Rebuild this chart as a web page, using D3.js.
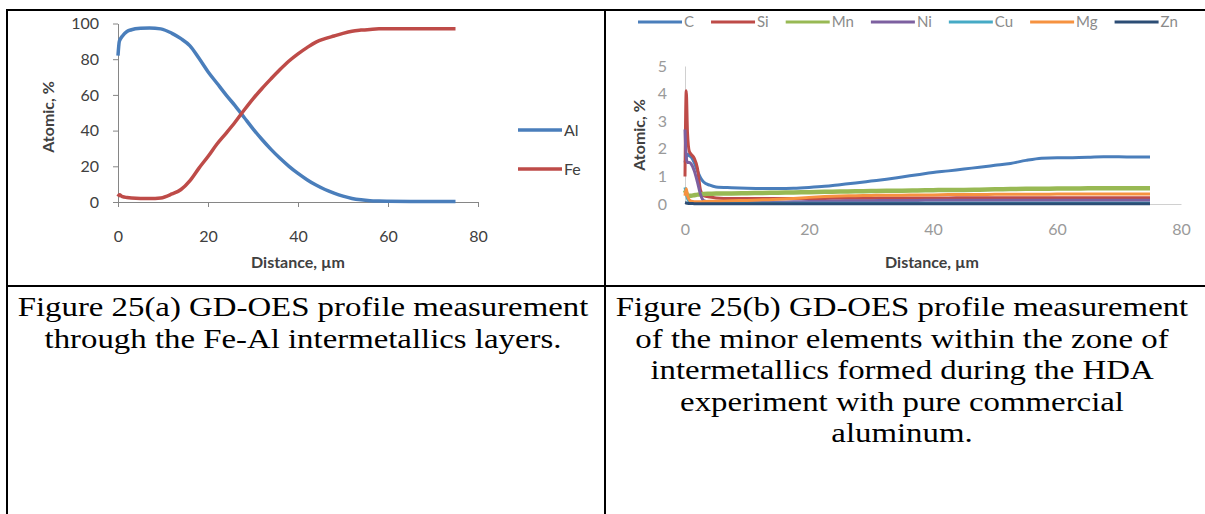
<!DOCTYPE html>
<html>
<head>
<meta charset="utf-8">
<script src="https://cdnjs.cloudflare.com/ajax/libs/d3/7.8.5/d3.min.js"></script>
<style>
body { margin: 0; background: #fff; }
svg { display: block; }
</style>
</head>
<body>
<svg id="page" width="1205" height="514"></svg>
<script>
// ---- chart (a): Al / Fe profile ----
var distA = [0, 0.3, 1, 2, 3, 5, 7, 9.5, 12, 14, 16, 18, 20, 22, 24, 26, 28, 30, 32, 34, 36, 38,
             40, 42, 44, 46, 48, 50, 52, 54, 56, 58, 60, 65, 70, 75];
var alVals = [82, 90, 93, 95.5, 96.5, 97.3, 97.5, 97, 94.5, 91.5, 87.5, 80.5, 73, 66.5, 60, 54, 47.5, 41, 35, 29.5, 24.5, 20,
              16, 12.5, 9.5, 7, 5, 3.3, 2, 1.2, 0.7, 0.5, 0.4, 0.3, 0.3, 0.3];
var feVals = [3, 4, 3, 2.5, 2.2, 2, 2, 2.3, 4.5, 7, 12, 19, 25.5, 32.5, 38.5, 44.7, 51.4, 57.8, 63.6, 69, 74.2, 79,
              83, 86.5, 89.6, 91.5, 93, 94.5, 95.7, 96.3, 96.7, 97, 97, 97, 97, 97];
var seriesA = ["Al", "Fe"];
var xTicksA = [0, 20, 40, 60, 80];
var yTicksA = [0, 20, 40, 60, 80, 100];

// ---- chart (b): minor elements ----
var distB = [0, 0.2, 0.4, 0.7, 1, 1.5, 2, 2.5, 3, 4, 5, 7.5, 10, 12.5, 15, 17.5, 20, 22.5, 25, 27.5,
             30, 32.5, 35, 37.5, 40, 42.5, 45, 47.5, 50, 52.5, 55, 57.5, 60, 62.5, 65, 67.5, 70, 72.5, 75];
var cVals  = [1.5, 1.7, 1.8, 1.75, 1.7, 1.5, 1.2, 0.95, 0.8, 0.68, 0.62, 0.59, 0.57, 0.56, 0.56, 0.57, 0.6, 0.64, 0.7, 0.76,
              0.83, 0.9, 0.98, 1.06, 1.14, 1.2, 1.27, 1.33, 1.4, 1.47, 1.58, 1.66, 1.68, 1.68, 1.69, 1.71, 1.71, 1.7, 1.7];
var siVals = [1.0, 4.1, 2.6, 1.9, 1.8, 1.65, 1.3, 0.5, 0.3, 0.25, 0.22, 0.2, 0.2, 0.2, 0.2, 0.2, 0.2, 0.2, 0.21, 0.21,
              0.21, 0.22, 0.22, 0.22, 0.22, 0.22, 0.23, 0.23, 0.23, 0.23, 0.23, 0.23, 0.23, 0.23, 0.23, 0.23, 0.23, 0.23, 0.23];
var mnVals = [0.5, 0.4, 0.32, 0.3, 0.3, 0.32, 0.34, 0.35, 0.36, 0.37, 0.38, 0.38, 0.39, 0.4, 0.41, 0.42, 0.43, 0.44, 0.45, 0.46,
              0.47, 0.48, 0.48, 0.49, 0.5, 0.51, 0.51, 0.52, 0.53, 0.54, 0.55, 0.55, 0.56, 0.56, 0.57, 0.57, 0.57, 0.57, 0.57];
var niVals = [2.7, 1.7, 1.5, 1.5, 1.45, 1.2, 0.8, 0.35, 0.12, 0.06, 0.05, 0.05, 0.05, 0.06, 0.07, 0.08, 0.09, 0.1, 0.11, 0.12,
              0.12, 0.13, 0.13, 0.13, 0.14, 0.14, 0.14, 0.14, 0.14, 0.14, 0.14, 0.14, 0.14, 0.14, 0.14, 0.14, 0.14, 0.14, 0.14];
var cuVals = [0.6, 0.4, 0.2, 0.1, 0.06, 0.04, 0.03, 0.03, 0.03, 0.03, 0.03, 0.03, 0.03, 0.03, 0.03, 0.03, 0.03, 0.03, 0.03, 0.03,
              0.03, 0.03, 0.03, 0.03, 0.03, 0.03, 0.03, 0.03, 0.03, 0.03, 0.03, 0.03, 0.03, 0.03, 0.03, 0.03, 0.03, 0.03, 0.03];
var mgVals = [0.3, 0.55, 0.3, 0.15, 0.1, 0.08, 0.08, 0.08, 0.09, 0.1, 0.1, 0.12, 0.13, 0.15, 0.17, 0.2, 0.24, 0.27, 0.29, 0.3,
              0.31, 0.32, 0.32, 0.33, 0.33, 0.34, 0.34, 0.34, 0.35, 0.35, 0.35, 0.35, 0.36, 0.36, 0.36, 0.36, 0.36, 0.36, 0.36];
var znVals = [0.05, 0.04, 0.03, 0.02, 0.02, 0.01, 0.01, 0.01, 0.01, 0.01, 0.01, 0.01, 0.01, 0.01, 0.01, 0.01, 0.01, 0.01, 0.01, 0.01,
              0.01, 0.01, 0.01, 0.01, 0.01, 0.01, 0.01, 0.01, 0.01, 0.01, 0.01, 0.01, 0.01, 0.01, 0.01, 0.01, 0.01, 0.01, 0.01];
var seriesB = ["C", "Si", "Mn", "Ni", "Cu", "Mg", "Zn"];
var xTicksB = [0, 20, 40, 60, 80];
var yTicksB = [0, 1, 2, 3, 4, 5];

// captions
var captionA = ["Figure 25(a) GD-OES profile measurement",
                "through the Fe-Al intermetallics layers."];
var captionB = ["Figure 25(b) GD-OES profile measurement",
                "of the minor elements within the zone of",
                "intermetallics formed during the HDA",
                "experiment with pure commercial",
                "aluminum."];

var colA = { Al: "#4a7ebb", Fe: "#be4b48" };
var colB = { C: "#4a7ebb", Si: "#be4b48", Mn: "#98b954", Ni: "#7d60a0", Cu: "#46aac5", Mg: "#f69240", Zn: "#2c4d75" };
var valsA = { Al: alVals, Fe: feVals };
var valsB = { C: cVals, Si: siVals, Mn: mnVals, Ni: niVals, Cu: cuVals, Mg: mgVals, Zn: znVals };

var svg = d3.select("#page");
var chartFont = "Lato, 'Open Sans', sans-serif";

// ---------- table frame ----------
var frame = svg.append("g").attr("stroke", "#000").attr("stroke-width", 2);
frame.append("line").attr("x1", 6).attr("x2", 1205).attr("y1", 10).attr("y2", 10);
frame.append("line").attr("x1", 6).attr("x2", 1205).attr("y1", 286).attr("y2", 286);
frame.append("line").attr("x1", 7).attr("x2", 7).attr("y1", 10).attr("y2", 514);
frame.append("line").attr("x1", 605).attr("x2", 605).attr("y1", 10).attr("y2", 514);

// ---------- chart (a) ----------
var xA = d3.scaleLinear().domain([0, 80]).range([118, 478]);
var yA = d3.scaleLinear().domain([0, 100]).range([202, 23.5]);

var gA = svg.append("g");
var axA = gA.append("g").attr("transform", "translate(0,202)")
    .call(d3.axisBottom(xA).tickValues(xTicksA).tickSize(5).tickPadding(24).tickSizeOuter(0));
var ayA = gA.append("g").attr("transform", "translate(118,0)")
    .call(d3.axisLeft(yA).tickValues(yTicksA).tickSize(5).tickPadding(14).tickSizeOuter(0));
[axA, ayA].forEach(function(a) {
    a.selectAll("path, line").attr("stroke", "#868686");
    a.selectAll("text").attr("font-family", chartFont).attr("font-size", 16).attr("fill", "#404040");
});

var lineA = d3.line().curve(d3.curveMonotoneX);
seriesA.forEach(function(s) {
    var pts = distA.map(function(d, i) { return [xA(d), yA(valsA[s][i])]; });
    gA.append("path").attr("d", lineA(pts)).attr("fill", "none")
        .attr("stroke", colA[s]).attr("stroke-width", 3.5).attr("stroke-linejoin", "round");
});

gA.append("text").attr("transform", "translate(54,117) rotate(-90)")
    .attr("text-anchor", "middle").attr("font-family", chartFont).attr("font-weight", "bold")
    .attr("font-size", 16).attr("fill", "#404040").text("Atomic, %");
gA.append("text").attr("x", 298).attr("y", 268)
    .attr("text-anchor", "middle").attr("font-family", chartFont).attr("font-weight", "bold")
    .attr("font-size", 16).attr("fill", "#404040").text("Distance, µm");

// legend (a)
seriesA.forEach(function(s, i) {
    var ly = 130 + i * 39;
    gA.append("line").attr("x1", 518).attr("x2", 562).attr("y1", ly).attr("y2", ly)
        .attr("stroke", colA[s]).attr("stroke-width", 3.5);
    gA.append("text").attr("x", 564).attr("y", ly + 5.5).attr("font-family", chartFont)
        .attr("font-size", 16).attr("fill", "#404040").text(s);
});

// ---------- chart (b) ----------
var xB = d3.scaleLinear().domain([0, 80]).range([685, 1181]);
var yB = d3.scaleLinear().domain([0, 5]).range([204, 66]);

var gB = svg.append("g");
var axB = gB.append("g").attr("transform", "translate(0,204)")
    .call(d3.axisBottom(xB).tickValues(xTicksB).tickSize(0).tickPadding(20).tickSizeOuter(0));
var ayB = gB.append("g").attr("transform", "translate(685,0)")
    .call(d3.axisLeft(yB).tickValues(yTicksB).tickFormat(d3.format("d"))
        .tickSize(0).tickPadding(18).tickSizeOuter(0));
[axB, ayB].forEach(function(a) {
    a.selectAll("path, line").attr("stroke", "#d0d0d0");
    a.selectAll("text").attr("font-family", chartFont).attr("font-size", 16).attr("fill", "#9a9a9a");
});

var lineB = d3.line().curve(d3.curveMonotoneX);
seriesB.forEach(function(s) {
    var pts = distB.map(function(d, i) { return [xB(d), yB(valsB[s][i])]; });
    gB.append("path").attr("d", lineB(pts)).attr("fill", "none")
        .attr("stroke", colB[s]).attr("stroke-width", s === "Mn" ? 4.5 : 3).attr("stroke-linejoin", "round");
});

gB.append("text").attr("transform", "translate(645,135) rotate(-90)")
    .attr("text-anchor", "middle").attr("font-family", chartFont).attr("font-weight", "bold")
    .attr("font-size", 16).attr("fill", "#404040").text("Atomic, %");
gB.append("text").attr("x", 932).attr("y", 268)
    .attr("text-anchor", "middle").attr("font-family", chartFont).attr("font-weight", "bold")
    .attr("font-size", 16).attr("fill", "#404040").text("Distance, µm");

// legend (b), laid out left to right
var lx = 638;
seriesB.forEach(function(s) {
    gB.append("line").attr("x1", lx).attr("x2", lx + 44).attr("y1", 22).attr("y2", 22)
        .attr("stroke", colB[s]).attr("stroke-width", 3);
    var t = gB.append("text").attr("x", lx + 46).attr("y", 27).attr("font-family", chartFont)
        .attr("font-size", 15).attr("fill", "#8a8a8a").text(s);
    lx += 46 + t.node().getComputedTextLength() + 17;
});

// ---------- captions ----------
function caption(lines, cx) {
    var g = svg.append("g");
    lines.forEach(function(l, i) {
        g.append("text").attr("class", "cap").attr("text-anchor", "middle")
            .attr("font-family", "'Liberation Serif', 'Times New Roman', serif")
            .attr("font-size", 27).attr("fill", "#000")
            .attr("data-cx", cx).attr("data-y", 316 + i * 31.6).text(l);
    });
}
caption(captionA, 303);
caption(captionB, 902);
// the source figure is stretched sideways, so widen caption text to match
var w0 = svg.select("text.cap").node().getComputedTextLength();
var sx = 571 / w0;
svg.selectAll("text.cap").attr("transform", function() {
    var t = d3.select(this);
    return "translate(" + t.attr("data-cx") + "," + t.attr("data-y") + ") scale(" + sx + ",1)";
});
</script>
</body>
</html>
